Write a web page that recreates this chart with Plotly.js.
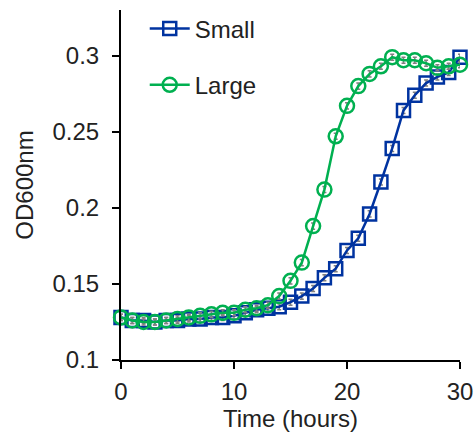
<!DOCTYPE html>
<html>
<head>
<meta charset="utf-8">
<script src="https://cdn.plot.ly/plotly-3.0.1.min.js"></script>
<style>html,body{margin:0;padding:0;background:#fff;}#chart{width:475px;height:441px;}</style>
</head>
<body>
<div id="chart"></div>
<script>
const hours = [0,1,2,3,4,5,6,7,8,9,10,11,12,13,14,15,16,17,18,19,20,21,22,23,24,25,26,27,28,29,30];
const small = [0.128,0.126,0.126,0.125,0.126,0.126,0.127,0.127,0.128,0.128,0.129,0.131,0.133,0.134,0.135,0.138,0.142,0.147,0.154,0.160,0.172,0.180,0.196,0.217,0.239,0.264,0.274,0.282,0.286,0.289,0.299];
const smallErr = [0.002,0.002,0.002,0.002,0.002,0.002,0.002,0.002,0.002,0.002,0.002,0.002,0.002,0.002,0.002,0.002,0.002,0.002,0.002,0.002,0.002,0.002,0.002,0.002,0.002,0.002,0.002,0.002,0.002,0.002,0.002];
const large = [0.128,0.126,0.125,0.125,0.126,0.127,0.128,0.129,0.130,0.131,0.131,0.133,0.134,0.136,0.142,0.152,0.164,0.188,0.212,0.247,0.267,0.280,0.288,0.293,0.299,0.297,0.297,0.295,0.292,0.293,0.294];
const largeErr = [0.002,0.002,0.002,0.002,0.002,0.002,0.002,0.002,0.002,0.002,0.002,0.002,0.002,0.002,0.002,0.002,0.002,0.002,0.002,0.002,0.002,0.002,0.002,0.002,0.002,0.002,0.002,0.002,0.002,0.002,0.002];
const yTicks = [0.1,0.15,0.2,0.25,0.3];
const yTickText = ['0.1','0.15','0.2','0.25','0.3'];
const xTicks = [0,10,20,30];

const blue = '#0033A0', green = '#00B050';
const traces = [
  {x: hours, y: small, name: 'Small', type: 'scatter', mode: 'lines+markers', legendgroup: 'a',
   line: {color: blue, width: 2.5},
   marker: {symbol: 'square-open', size: 13, color: blue, line: {width: 2.5, color: blue}},
   error_y: {type: 'data', array: smallErr, visible: true, color: '#808080', thickness: 1.5, width: 2},
   cliponaxis: false},
  {x: hours, y: large, name: 'Large', type: 'scatter', mode: 'lines+markers', legendgroup: 'b',
   line: {color: green, width: 2.5},
   marker: {symbol: 'circle-open', size: 14, color: green, line: {width: 2.5, color: green}},
   error_y: {type: 'data', array: largeErr, visible: true, color: '#808080', thickness: 1.5, width: 2},
   cliponaxis: false}
];
const font = {family: 'Liberation Sans, Arial, sans-serif', size: 24, color: '#222'};
const layout = {
  width: 475, height: 441,
  margin: {l: 121, r: 15, t: 7, b: 81},
  paper_bgcolor: '#fff', plot_bgcolor: '#fff',
  font: font,
  showlegend: true,
  legend: {x: 0.07, y: 1.01, xanchor: 'left', yanchor: 'top', traceorder: 'grouped', tracegroupgap: 22,
           font: font, itemwidth: 40, bgcolor: 'rgba(0,0,0,0)'},
  xaxis: {range: [0, 30], tickvals: xTicks, ticks: 'outside', ticklen: 7, tickwidth: 2, tickcolor: '#000',
          showline: true, linecolor: '#000', linewidth: 2, showgrid: false, zeroline: false, ticklabelstandoff: 2,
          tickfont: font, title: {text: 'Time (hours)', font: font, standoff: 5}},
  yaxis: {range: [0.1, 0.33], tickvals: yTicks, ticktext: yTickText, ticks: 'outside', ticklen: 7, tickwidth: 2, tickcolor: '#000',
          showline: true, linecolor: '#000', linewidth: 2, showgrid: false, zeroline: false, ticklabelstandoff: 8,
          tickfont: font, title: {text: 'OD600nm', font: font, standoff: 12}}
};
Plotly.newPlot('chart', traces, layout, {displayModeBar: false, staticPlot: true});
</script>
</body>
</html>
